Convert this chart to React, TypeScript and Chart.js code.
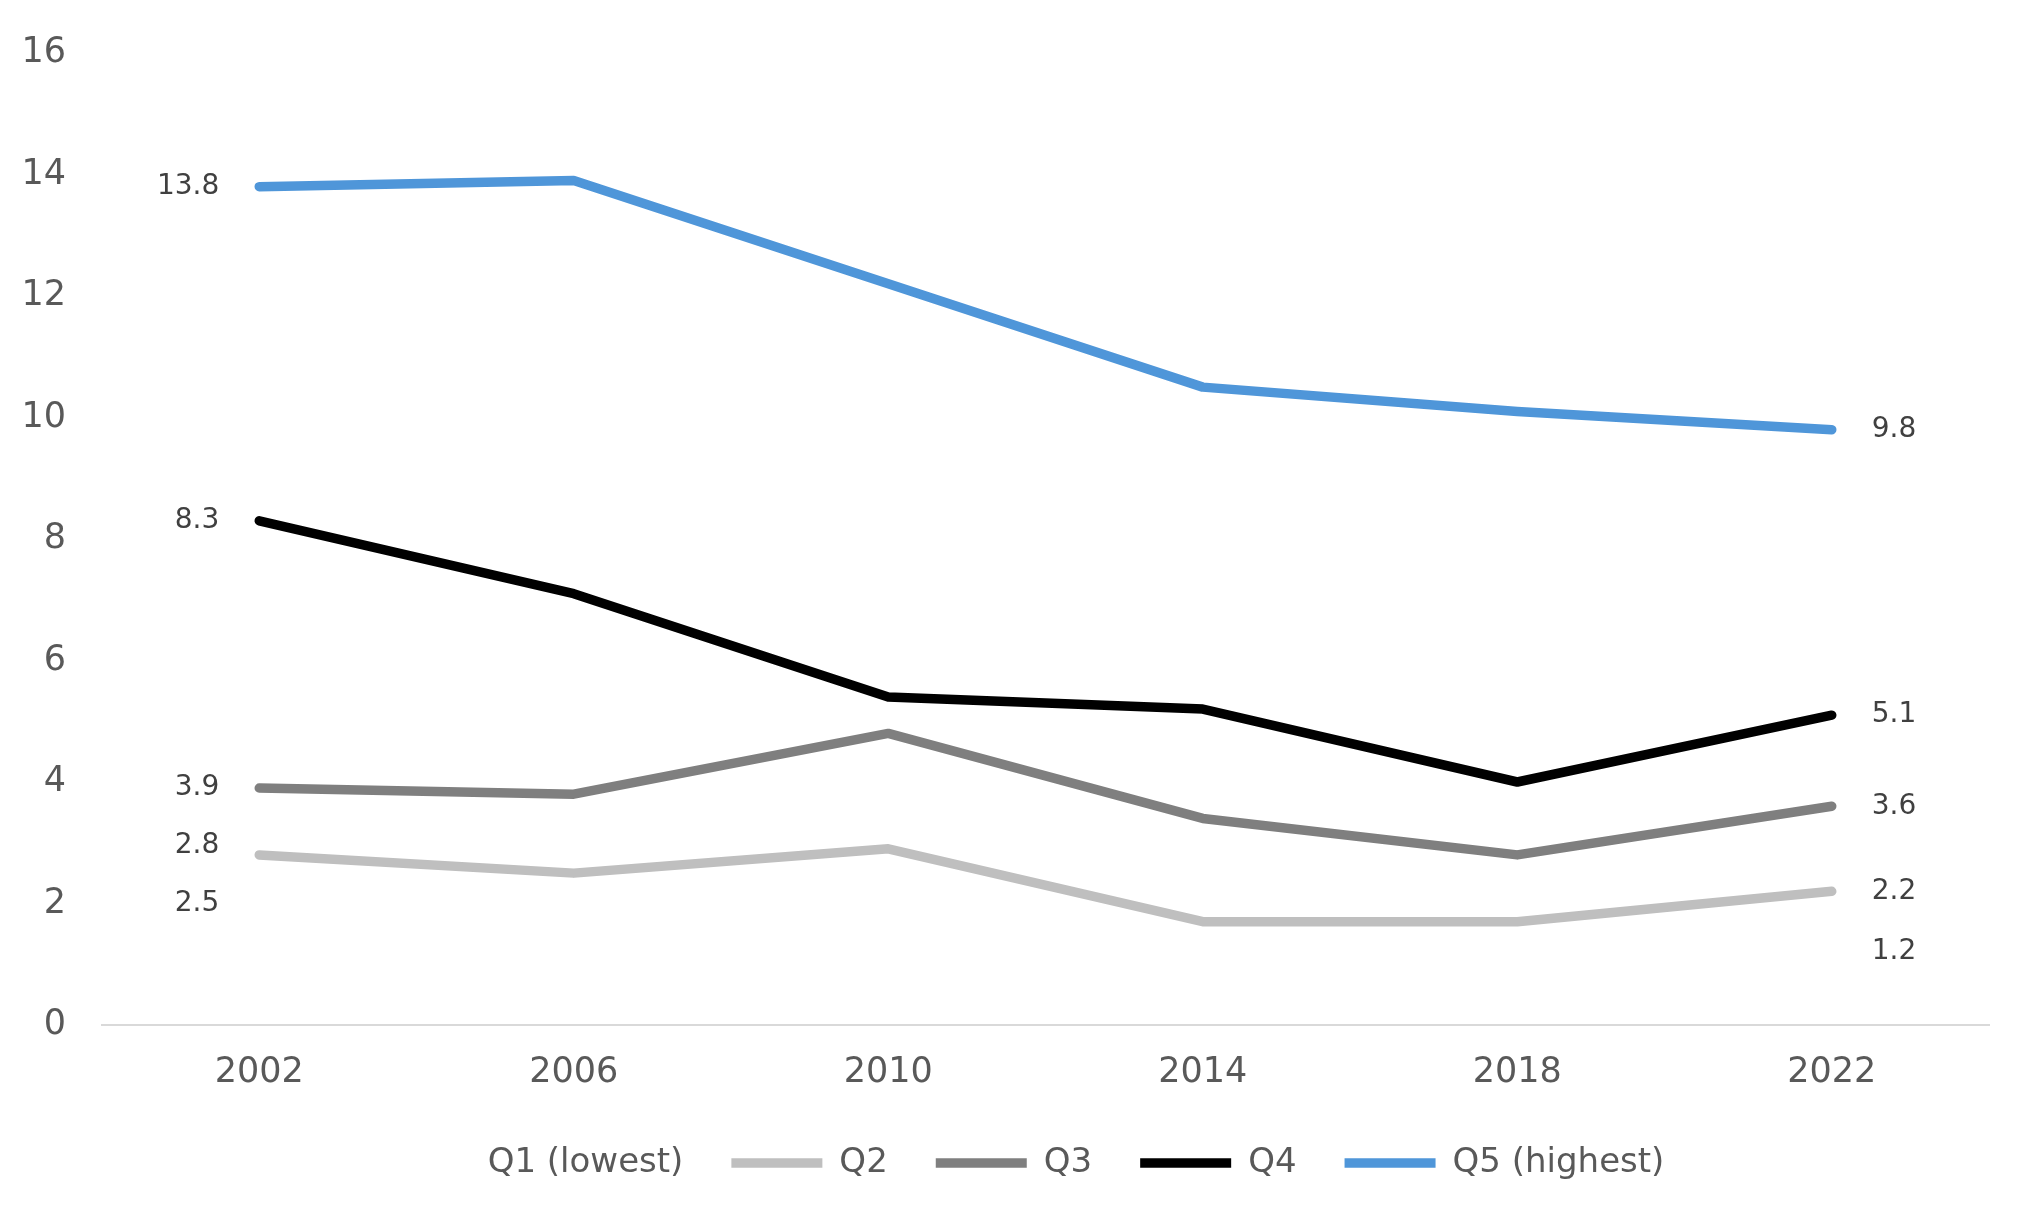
import { useEffect, useRef } from 'react';
import { Chart, registerables } from 'chart.js';

Chart.register(...registerables);

const years = ['2002', '2006', '2010', '2014', '2018', '2022'];

// Q1 is drawn without a visible line, only its end values are labelled
const q1 = [2.5, null, null, null, null, 1.2];
const q2 = [2.8, 2.5, 2.9, 1.7, 1.7, 2.2];
const q3 = [3.9, 3.8, 4.8, 3.4, 2.8, 3.6];
const q4 = [8.3, 7.1, 5.4, 5.2, 4.0, 5.1];
const q5 = [13.8, 13.9, 12.2, 10.5, 10.1, 9.8];

const yTicks = [0, 2, 4, 6, 8, 10, 12, 14, 16];

const FONT = '"DejaVu Sans", sans-serif';

// vertical nudges for end labels that would collide
const labelNudge: Record<string, [number, number]> = {
    'Q1 (lowest)': [31, 0],
    Q2: [-9, 0],
};

const endLabels = {
    id: 'endLabels',
    afterDatasetsDraw(chart: Chart) {
        const { ctx } = chart;
        ctx.save();
        ctx.font = `28px ${FONT}`;
        ctx.fillStyle = '#404040';
        ctx.textBaseline = 'middle';
        chart.data.datasets.forEach((ds, i) => {
            const meta = chart.getDatasetMeta(i);
            const data = ds.data as (number | null)[];
            const nudge = labelNudge[ds.label as string] || [0, 0];
            const first = meta.data[0];
            const last = meta.data[data.length - 1];
            if (data[0] != null) {
                ctx.textAlign = 'right';
                ctx.fillText(data[0]!.toFixed(1), first.x - 40, first.y + nudge[0]);
            }
            if (data[data.length - 1] != null) {
                ctx.textAlign = 'left';
                ctx.fillText(data[data.length - 1]!.toFixed(1), last.x + 40, last.y + nudge[1]);
            }
        });
        ctx.restore();
    },
};

export default function App() {
    const canvasRef = useRef<HTMLCanvasElement>(null);

    useEffect(() => {
        if (!canvasRef.current) return;
        const line = (label: string, data: (number | null)[], color: string) => ({
            label,
            data,
            borderColor: color,
            backgroundColor: color,
            borderWidth: 9.5,
            borderCapStyle: 'round',
            borderJoinStyle: 'round',
            pointRadius: 0,
            pointHoverRadius: 0,
            tension: 0,
            spanGaps: false,
        });

        const chart = new Chart(canvasRef.current, {
            type: 'line',
            data: {
                labels: years,
                datasets: [
                    line('Q1 (lowest)', q1, 'transparent'),
                    line('Q2', q2, '#bfbfbf'),
                    line('Q3', q3, '#7f7f7f'),
                    line('Q4', q4, '#000000'),
                    line('Q5 (highest)', q5, '#4f96d9'),
                ],
            } as any,
            options: {
                animation: false,
                responsive: true,
                maintainAspectRatio: false,
                layout: { padding: { top: 53, right: 0, bottom: 42, left: 0 } },
                plugins: {
                    legend: {
                        position: 'bottom',
                        labels: {
                            usePointStyle: true,
                            pointStyle: 'line',
                            pointStyleWidth: 91,
                            padding: 48,
                            color: '#595959',
                            font: { family: FONT, size: 34 },
                        },
                    },
                    tooltip: { enabled: false },
                },
                scales: {
                    x: {
                        offset: true,
                        grid: { display: false, drawTicks: false },
                        border: { display: true, color: '#d9d9d9', width: 2 },
                        ticks: {
                            color: '#595959',
                            font: { family: FONT, size: 35 },
                            padding: 27,
                        },
                        afterFit: (scale: any) => { scale.height = 73; },
                    },
                    y: {
                        min: 0,
                        max: 16,
                        afterBuildTicks: (scale: any) => { scale.ticks = yTicks.map(v => ({ value: v })); },
                        grid: { display: false, drawTicks: false },
                        border: { display: false },
                        ticks: {
                            color: '#595959',
                            font: { family: FONT, size: 35 },
                            padding: 36,
                        },
                        afterFit: (scale: any) => {
                            scale.width = 102;
                            scale.paddingTop = 0;
                            scale.paddingBottom = 0;
                        },
                    },
                    // empty right-hand gutter so the legend stays centred on the canvas
                    yRight: {
                        position: 'right',
                        min: 0,
                        max: 16,
                        grid: { display: false, drawTicks: false },
                        border: { display: false },
                        ticks: { display: false },
                        afterFit: (scale: any) => { scale.width = 55; },
                    },
                },
            },
            plugins: [endLabels],
        });

        return () => { chart.destroy(); };
    }, []);

    return (
        <div style={{ position: 'absolute', left: 0, top: 0, width: 2044, height: 1232, background: '#fff' }}>
            <canvas ref={canvasRef} />
        </div>
    );
}
